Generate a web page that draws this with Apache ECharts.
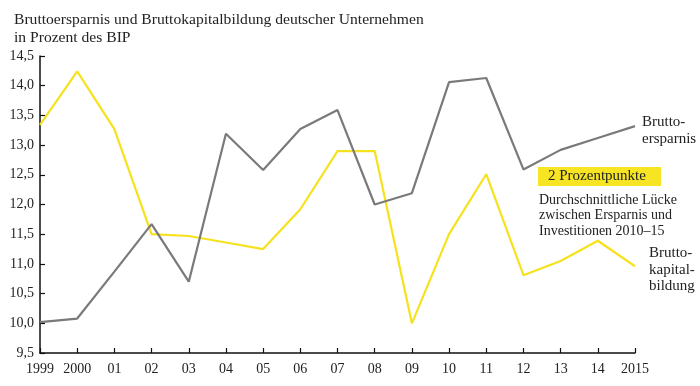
<!DOCTYPE html>
<html>
<head>
<meta charset="utf-8">
<script src="https://cdn.jsdelivr.net/npm/echarts@6/dist/echarts.min.js"></script>
<style>html,body{margin:0;padding:0;background:#fff}#c{width:700px;height:386px}</style>
</head>
<body>
<div id="c"></div>
<script>
var categories = ['1999','2000','01','02','03','04','05','06','07','08','09','10','11','12','13','14','2015'];
var bruttoersparnis = [10.02,10.08,10.87,11.67,10.70,13.19,12.58,13.27,13.59,12.00,12.19,14.06,14.13,12.59,12.92,13.12,13.32];
var bruttokapitalbildung = [13.34,14.24,13.27,11.50,11.47,11.36,11.25,11.92,12.90,12.90,10.00,11.50,12.51,10.81,11.05,11.39,10.96];
var yTicks = {min: 9.5, max: 14.5, interval: 0.5};

var FONT = '"Liberation Serif", "DejaVu Serif", serif';
var chart = echarts.init(document.getElementById('c'), null, {renderer: 'canvas'});
chart.setOption({
  backgroundColor: '#fff',
  animation: false,
  title: {
    text: 'Bruttoersparnis und Bruttokapitalbildung deutscher Unternehmen\nin Prozent des BIP',
    left: 9, top: 6,
    textStyle: {fontFamily: FONT, fontSize: 15.6, fontWeight: 'normal', color: '#222', lineHeight: 18}
  },
  grid: {left: 40, right: 65, top: 56, bottom: 33},
  xAxis: {
    type: 'category', data: categories, boundaryGap: false,
    axisLine: {lineStyle: {color: '#111', width: 1.5}},
    axisTick: {inside: true, length: 5, lineStyle: {color: '#111', width: 1.2}, alignWithLabel: true},
    axisLabel: {fontFamily: FONT, fontSize: 14, color: '#222', margin: 9, interval: 0},
    splitLine: {show: false}
  },
  yAxis: {
    type: 'value', min: yTicks.min, max: yTicks.max, interval: yTicks.interval,
    axisLine: {show: true, lineStyle: {color: '#111', width: 1.5}},
    axisTick: {show: true, inside: true, length: 5, lineStyle: {color: '#111', width: 1.2}},
    axisLabel: {fontFamily: FONT, fontSize: 14, color: '#222', margin: 6,
      formatter: function (v) { return v.toFixed(1).replace('.', ','); }},
    splitLine: {show: false}
  },
  series: [
    {type: 'line', data: bruttoersparnis, symbol: 'none', lineStyle: {color: '#7a7a7a', width: 2.2}, z: 3},
    {type: 'line', data: bruttokapitalbildung, symbol: 'none', lineStyle: {color: '#f6e21c', width: 2.2}, z: 2}
  ],
  graphic: [
    {type: 'text', left: 642, top: 114, style: {text: 'Brutto-\nersparnis', fontFamily: FONT, fontSize: 15, lineHeight: 17, fill: '#222'}},
    {type: 'rect', shape: {x: 538, y: 167, width: 123, height: 19}, style: {fill: '#f7e524'}},
    {type: 'text', left: 548, top: 168, style: {text: '2 Prozentpunkte', fontFamily: FONT, fontSize: 15, lineHeight: 17, fill: '#222'}},
    {type: 'text', left: 539, top: 192, style: {text: 'Durchschnittliche Lücke\nzwischen Ersparnis und\nInvestitionen 2010–15', fontFamily: FONT, fontSize: 14, lineHeight: 15.8, fill: '#222'}},
    {type: 'text', left: 649, top: 245, style: {text: 'Brutto-\nkapital-\nbildung', fontFamily: FONT, fontSize: 15, lineHeight: 16.5, fill: '#222'}}
  ]
});
</script>
</body>
</html>
